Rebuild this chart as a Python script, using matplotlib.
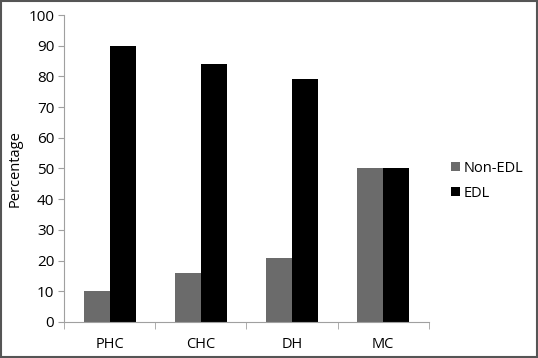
import numpy as np
import matplotlib.pyplot as plt
from matplotlib.patches import Rectangle

categories = ["PHC", "CHC", "DH", "MC"]
non_edl = [10, 16, 21, 50]
edl = [90, 84, 79, 50]

plt.rcParams['font.family'] = ['Open Sans', 'DejaVu Sans']

fig = plt.figure(figsize=(5.38, 3.58), dpi=100)
ax = fig.add_axes([0.119, 0.1006, 0.678, 0.8575])

x = np.arange(len(categories))
w = 0.285
ax.bar(x - w / 2, non_edl, w, color="#6b6b6b", label="Non-EDL")
ax.bar(x + w / 2, edl, w, color="#000000", label="EDL")

ax.set_xlim(-0.5, len(categories) - 0.5)
ax.set_ylim(0, 100)
ax.set_yticks(np.arange(0, 101, 10))
ax.set_xticks(x)
ax.set_xticklabels(categories)
ax.set_xticks(np.arange(-0.5, len(categories), 1), minor=True)
ax.tick_params(axis="x", which="major", length=0, pad=11, labelsize=10.5)
ax.tick_params(axis="x", which="minor", length=5, color="#a0a0a0")
ax.tick_params(axis="y", length=4, color="#a0a0a0", labelsize=11, pad=3)

for s in ["top", "right"]:
    ax.spines[s].set_visible(False)
for s in ["left", "bottom"]:
    ax.spines[s].set_color("#a0a0a0")

ax.set_ylabel("Percentage", fontsize=10.5, labelpad=4)

ax.legend(loc="center left", bbox_to_anchor=(1.025, 0.46), frameon=False,
          fontsize=10.5, handlelength=0.6, handleheight=0.6, handletextpad=0.25,
          labelspacing=0.7)

fig.patches.append(Rectangle((0.002, 0.003), 0.996, 0.994, transform=fig.transFigure,
                             fill=False, edgecolor="#555555", linewidth=1.5))

fig.savefig("out.png", dpi=100)
